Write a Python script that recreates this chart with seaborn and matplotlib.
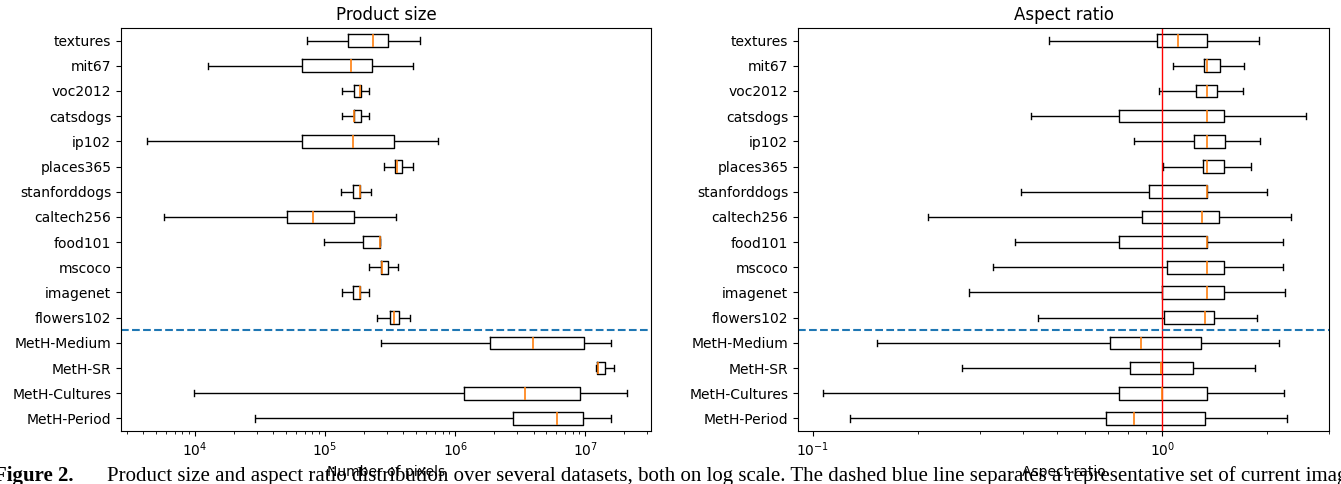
import numpy as np
import pandas as pd
import matplotlib
matplotlib.use("Agg")
import matplotlib.pyplot as plt
import seaborn as sns

# datasets, top to bottom
names = ["textures", "mit67", "voc2012", "catsdogs", "ip102", "places365",
         "stanforddogs", "caltech256", "food101", "mscoco", "imagenet",
         "flowers102", "MetH-Medium", "MetH-SR", "MetH-Cultures", "MetH-Period"]

# product size (number of pixels): whisker low, q1, median, q3, whisker high
px_low = [73e3, 12.5e3, 134e3, 134e3, 4.3e3, 284e3, 132e3, 5.8e3,
          98.8e3, 218e3, 134e3, 250e3, 267e3, 12.0e6, 9.76e3, 29e3]
px_q1 = [151e3, 67e3, 168e3, 167e3, 67e3, 345e3, 165e3, 51e3,
         195e3, 271e3, 165e3, 313e3, 1.85e6, 12.4e6, 1.17e6, 2.78e6]
px_med = [234e3, 158e3, 187e3, 168e3, 163e3, 356e3, 185e3, 80.5e3,
          262e3, 274e3, 185e3, 341e3, 3.96e6, 12.6e6, 3.42e6, 6.04e6]
px_q3 = [307e3, 229e3, 189e3, 188e3, 337e3, 391e3, 186e3, 168e3,
         265e3, 307e3, 186e3, 373e3, 9.75e6, 14.1e6, 9.18e6, 9.6e6]
px_high = [538e3, 475e3, 219e3, 219e3, 740e3, 470e3, 224e3, 348e3,
           265e3, 366e3, 219e3, 446e3, 15.8e6, 16.7e6, 20.9e6, 15.8e6]

# aspect ratio
ar_low = [0.473, 1.074, 0.977, 0.42, 0.832, 1.006, 0.394, 0.213,
          0.379, 0.328, 0.279, 0.442, 0.153, 0.267, 0.1065, 0.1276]
ar_q1 = [0.963, 1.313, 1.25, 0.751, 1.229, 1.305, 0.915, 0.876,
         0.751, 1.029, 1.0, 1.011, 0.709, 0.807, 0.751, 0.691]
ar_med = [1.112, 1.34, 1.34, 1.34, 1.34, 1.343, 1.343, 1.302,
          1.34, 1.34, 1.34, 1.328, 0.869, 0.989, 0.997, 0.830]
ar_q3 = [1.34, 1.465, 1.43, 1.498, 1.51, 1.498, 1.345, 1.456,
         1.342, 1.498, 1.498, 1.406, 1.29, 1.226, 1.34, 1.328]
ar_high = [1.89, 1.71, 1.70, 2.57, 1.90, 1.795, 1.995, 2.34,
           2.22, 2.21, 2.25, 1.863, 2.16, 1.847, 2.225, 2.276]


def to_long(low, q1, med, q3, high):
    rows = []
    for i, n in enumerate(names):
        for v in (low[i], q1[i], med[i], q3[i], high[i]):
            rows.append({"dataset": n, "value": v})
    return pd.DataFrame(rows)


df_px = to_long(px_low, px_q1, px_med, px_q3, px_high)
df_ar = to_long(ar_low, ar_q1, ar_med, ar_q3, ar_high)

fig = plt.figure(figsize=(13.41, 4.84), dpi=100)
ax1 = fig.add_axes([121 / 1341, 53 / 484, 530 / 1341, 403 / 484])
ax2 = fig.add_axes([798 / 1341, 53 / 484, 531 / 1341, 403 / 484])

box_kw = dict(x="value", y="dataset", order=names, log_scale=True,
              whis=(0, 100), showfliers=False, fill=False, color="black",
              width=0.5, linewidth=1,
              medianprops={"color": "#ff7f0e", "linewidth": 1.2})

sns.boxplot(data=df_px, ax=ax1, **box_kw)
ax1.axhline(11.5, color="#1f77b4", linestyle="--", linewidth=1.5)
ax1.set_xlim(2700, 3.2e7)
ax1.set_title("Product size")
ax1.set_xlabel("Number of pixels")
ax1.set_ylabel("")

sns.boxplot(data=df_ar, ax=ax2, **box_kw)
ax2.axvline(1, color="red", linewidth=1)
ax2.axhline(11.5, color="#1f77b4", linestyle="--", linewidth=1.5)
ax2.set_xlim(0.0906, 3.0)
ax2.set_title("Aspect ratio")
ax2.set_xlabel("Aspect ratio")
ax2.set_ylabel("")

for ax in (ax1, ax2):
    for s in ax.spines.values():
        s.set_visible(True)

# caption from the paper, overlapping the bottom of the figure
fig.text(-6 / 1341, 8 / 484, "Figure 2.", fontsize=15, fontweight="bold",
         family="Liberation Serif", va="center", ha="left")
fig.text(107 / 1341, 8 / 484,
         "Product size and aspect ratio distribution over several datasets, both on log scale. "
         "The dashed blue line separates a representative set of current image",
         fontsize=15, family="Liberation Serif", va="center", ha="left")

fig.savefig("out.png", dpi=100)
